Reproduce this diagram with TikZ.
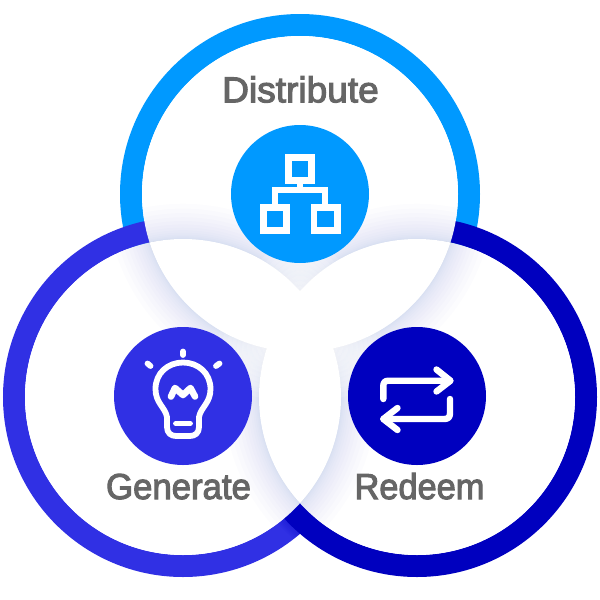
\documentclass[tikz,border=0pt]{standalone}
\usepackage{fontspec}
\setmainfont[FakeBold=3]{Liberation Sans}
\definecolor{cTop}{HTML}{0099FF}
\definecolor{cLeft}{HTML}{3030E4}
\definecolor{cRight}{HTML}{0000BF}
\definecolor{cText}{HTML}{666666}
\definecolor{cShade}{HTML}{2F45B4}
\tikzset{
  ring/.style={line width=22pt},
  badge/.style={circle,minimum size=138pt,inner sep=0pt,outer sep=0pt},
  glyph/.style={draw=white,line width=6.4pt,line cap=round,line join=round},
  bulbline/.style={glyph,line width=5.8pt},
  boxglyph/.style={draw=white,line width=6.6pt,line cap=butt,line join=miter},
  caption/.style={text=cText,font=\fontsize{36}{36}\selectfont,inner sep=0pt,anchor=base}
}
\newcommand{\softedge}[2]{% clip disc #1, shadow from disc #2
  \begin{scope}
    \clip #1 circle (158);
    \foreach \k in {1,...,14}{
      \draw[cShade,opacity=0.012,line width=2*\k*\k*0.18pt] #2 circle (158);
    }
  \end{scope}}
\newcommand{\lens}[2]{%
  \begin{scope}
    \clip #1 circle (158);
    \fill[white] #2 circle (158);
  \end{scope}}
\newcommand{\whiten}[1]{%
  \foreach \k in {1,...,10}{
    \fill[white,opacity=0.14] #1 circle (\k*5);
  }}
\begin{document}
\begin{tikzpicture}[x=1pt,y=-1pt]
\useasboundingbox (0,0) rectangle (600,600);
\coordinate (T) at (300,194);
\coordinate (L) at (183,397);
\coordinate (R) at (417,397);
\coordinate (cuspA) at (300,291);
\coordinate (cuspB) at (267,348);
\coordinate (cuspC) at (333,348);
% rings
\draw[ring,cTop] (T) circle (169);
\draw[ring,cLeft] (L) circle (169);
\begin{scope}
  \clip (L) circle (180);
  \foreach \k in {1,...,5}{
    \draw[cRight,opacity=0.05,line width=2*\k*1.6pt] (R) circle (180);
  }
\end{scope}
\draw[ring,cRight] (R) circle (169);
% white discs
\fill[white] (T) circle (158);
\fill[white] (L) circle (158);
\fill[white] (R) circle (158);
% soft shadows
\softedge{(T)}{(L)}
\softedge{(T)}{(R)}
\softedge{(L)}{(T)}
\softedge{(L)}{(R)}
\softedge{(R)}{(T)}
\softedge{(R)}{(L)}
\lens{(T)}{(L)}
\lens{(T)}{(R)}
\lens{(L)}{(R)}
\whiten{(cuspA)}
\whiten{(cuspB)}
\whiten{(cuspC)}
% badges
\node[badge,fill=cTop] (bt) at (300,194) {};
\node[badge,fill=cLeft] (bl) at (183,396) {};
\node[badge,fill=cRight] (br) at (417,396) {};
% tree glyph
\draw[boxglyph] (288.3,157.3) rectangle (311.7,180.7);
\draw[boxglyph] (263.3,207.3) rectangle (286.7,230.7);
\draw[boxglyph] (314,207.3) rectangle (337.4,230.7);
\draw[boxglyph] (300,184) -- (300,190);
\draw[boxglyph] (275,204) -- (275,190) -- (325,190) -- (325,204);
% bulb glyph
\draw[bulbline] (167,427) -- (167,417)
  .. controls (165,407) and (155.5,403) .. (155.5,389)
  .. controls (155.5,373) and (168,362.5) .. (183,362.5)
  .. controls (198,362.5) and (210.5,373) .. (210.5,389)
  .. controls (210.5,403) and (201,407) .. (199,417)
  -- (199,427) .. controls (199,433) and (195,436) .. (190,436)
  -- (176,436) .. controls (171,436) and (167,433) .. (167,427) -- cycle;
\draw[bulbline] (176,423.5) -- (190,423.5);
\draw[bulbline,line width=6.6pt] (171,396.5) -- (175,388) -- (183,395) -- (190.5,388) -- (195,396.5);
\draw[bulbline] (183,351.5) -- (183,355);
\draw[bulbline] (147.5,363.5) -- (150.5,366);
\draw[bulbline] (219.5,363.5) -- (216,366);
% arrows glyph
\draw[glyph] (383.3,399) -- (383.3,386) .. controls (383.3,382.5) and (385,380.7) .. (388.5,380.7) -- (450,380.7);
\draw[glyph] (436.5,369.5) -- (450.5,380.7) -- (436.5,391.5);
\draw[glyph] (450,399) -- (450,413.5) .. controls (450,417) and (448,419) .. (444.5,419) -- (383.5,419);
\draw[glyph] (397.5,408) -- (383.3,419) -- (397.5,430);
% captions
\node[caption] (distribute) at (300.5,102.3) {\scalebox{1.03}[1]{Distribute}};
\node[caption] (generate) at (178.5,499) {\scalebox{0.965}[1]{Generate}};
\node[caption] (redeem) at (419.5,499) {\scalebox{0.955}[1]{Redeem}};
\end{tikzpicture}
\end{document}
